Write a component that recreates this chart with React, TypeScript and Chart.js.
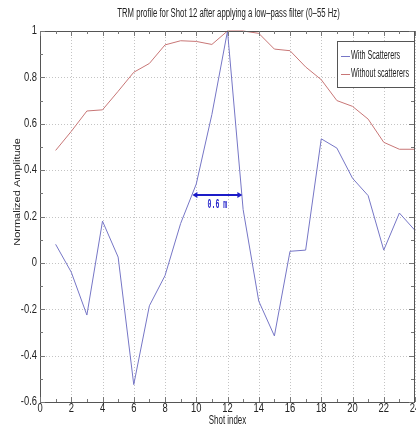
import React, { useEffect, useRef } from "react";
import { Chart, registerables } from "chart.js";

Chart.register(...registerables);

// ---- data ----
const shotIndex = [1, 2, 3, 4, 5, 6, 7, 8, 9, 10, 11, 12, 13, 14, 15, 16, 17, 18, 19, 20, 21, 22, 23, 24];
const withScatterers = [0.08, -0.04, -0.225, 0.18, 0.025, -0.525, -0.185, -0.055, 0.17, 0.34, 0.64, 1.0, 0.23, -0.165, -0.315, 0.05, 0.055, 0.535, 0.495, 0.365, 0.29, 0.055, 0.215, 0.14];
const withoutScatterers = [0.485, 0.567, 0.655, 0.66, 0.74, 0.822, 0.86, 0.94, 0.958, 0.955, 0.942, 1.0, 1.0, 0.99, 0.922, 0.915, 0.845, 0.79, 0.7, 0.675, 0.62, 0.52, 0.49, 0.49];
const seriesLabels = ["With Scatterers", "Without scatterers"];
const seriesColors = ["#7676c6", "#c87676"];
const xRange = [0, 24];
const yRange = [-0.6, 1];
const xStep = 2;
const yStep = 0.2;
const titleText = "TRM profile for Shot 12 after applying a low\u2013pass filter (0\u201355 Hz)";
const xTitle = "Shot index";
const yTitle = "Normalized Amplitude";
// annotation: width marker
const spanX = [9.75, 12.95];
const spanY = 0.293;
const spanLabel = "0.6 m";
const spanLabelPos = [11.35, 0.25];

const TEXT_FONT = "'Liberation Sans', Arial, sans-serif";

function drawSquished(ctx: CanvasRenderingContext2D, text: string, x: number, y: number, sx: number) {
  ctx.save();
  ctx.translate(x, y);
  ctx.scale(sx, 1);
  ctx.fillText(text, 0, 0);
  ctx.restore();
}

const fmtY = (v: number) => String(Number(v.toFixed(1)));

const decor = {
  id: "decor",
  beforeDatasetsDraw(chart: any) {
    const { ctx, chartArea } = chart;
    const { left, right, top, bottom } = chartArea;
    const xs = chart.scales.x;
    const ys = chart.scales.y;
    ctx.save();
    ctx.strokeStyle = "#c4c4c4";
    ctx.lineWidth = 1;
    ctx.setLineDash([1, 2]);
    xs.ticks.forEach((t: any) => {
      const px = Math.round(xs.getPixelForValue(t.value)) + 0.5;
      ctx.beginPath();
      ctx.moveTo(px, top);
      ctx.lineTo(px, bottom);
      ctx.stroke();
    });
    ys.ticks.forEach((t: any) => {
      const py = Math.round(ys.getPixelForValue(t.value)) + 0.5;
      ctx.beginPath();
      ctx.moveTo(left, py);
      ctx.lineTo(right, py);
      ctx.stroke();
    });
    ctx.restore();
  },
  afterDraw(chart: any) {
    const { ctx, chartArea } = chart;
    const { left, right, top, bottom } = chartArea;
    const xs = chart.scales.x;
    const ys = chart.scales.y;
    ctx.save();
    // axes box
    ctx.strokeStyle = "#555";
    ctx.lineWidth = 1;
    ctx.setLineDash([]);
    ctx.strokeRect(Math.round(left) + 0.5, Math.round(top) + 0.5, Math.round(right - left) - 1, Math.round(bottom - top));

    // inward ticks, major and minor
    const tickMarks = (scale: any, horizontal: boolean) => {
      const vals = scale.ticks.map((t: any) => t.value);
      const minors: number[] = [];
      for (let i = 0; i < vals.length - 1; i++) minors.push((vals[i] + vals[i + 1]) / 2);
      const draw = (v: number, len: number) => {
        const p = Math.round(scale.getPixelForValue(v)) + 0.5;
        ctx.beginPath();
        if (horizontal) {
          ctx.moveTo(p, bottom); ctx.lineTo(p, bottom - len);
          ctx.moveTo(p, top); ctx.lineTo(p, top + len);
        } else {
          ctx.moveTo(left, p); ctx.lineTo(left + len, p);
          ctx.moveTo(right - 1, p); ctx.lineTo(right - 1 - len, p);
        }
        ctx.stroke();
      };
      vals.forEach((v: number) => draw(v, 5));
      minors.forEach((v: number) => draw(v, 3));
    };
    ctx.strokeStyle = "#777";
    tickMarks(xs, true);
    tickMarks(ys, false);

    // tick labels (from the scales' own ticks)
    ctx.fillStyle = "#222";
    ctx.font = `12px ${TEXT_FONT}`;
    ctx.textBaseline = "middle";
    ctx.textAlign = "right";
    ys.ticks.forEach((t: any) => {
      drawSquished(ctx, fmtY(t.value), left - 3, ys.getPixelForValue(t.value), 0.78);
    });
    ctx.textAlign = "center";
    xs.ticks.forEach((t: any) => {
      drawSquished(ctx, String(t.value), xs.getPixelForValue(t.value), bottom + 7, 0.78);
    });

    // title
    ctx.fillStyle = "#222";
    ctx.textAlign = "center";
    ctx.textBaseline = "middle";
    ctx.font = `12px ${TEXT_FONT}`;
    drawSquished(ctx, titleText, (left + right) / 2 + 1, 14, 0.645);
    // x title
    drawSquished(ctx, xTitle, (left + right) / 2, 421, 0.66);
    // y title (rotated; squish thickness)
    ctx.save();
    ctx.translate(18, 192);
    ctx.rotate(-Math.PI / 2);
    ctx.scale(1, 0.75);
    ctx.font = `11px ${TEXT_FONT}`;
    ctx.fillText(yTitle, 0, 0);
    ctx.restore();

    // annotation arrow
    const ax1 = xs.getPixelForValue(spanX[0]);
    const ax2 = xs.getPixelForValue(spanX[1]);
    const ay = ys.getPixelForValue(spanY);
    ctx.strokeStyle = "#1c1cc8";
    ctx.fillStyle = "#1c1cc8";
    ctx.lineWidth = 2;
    ctx.beginPath();
    ctx.moveTo(ax1 + 3, ay);
    ctx.lineTo(ax2 - 3, ay);
    ctx.stroke();
    const head = (x: number, dir: number) => {
      ctx.beginPath();
      ctx.moveTo(x, ay);
      ctx.lineTo(x - dir * 5, ay - 3);
      ctx.lineTo(x - dir * 5, ay + 3);
      ctx.closePath();
      ctx.fill();
    };
    head(ax1, -1);
    head(ax2, 1);
    ctx.font = `bold 13px 'Liberation Mono', 'DejaVu Sans Mono', monospace`;
    ctx.textAlign = "center";
    ctx.textBaseline = "middle";
    drawSquished(ctx, spanLabel, xs.getPixelForValue(spanLabelPos[0]), ys.getPixelForValue(spanLabelPos[1]), 0.5);

    // legend box
    const lx = 337.5, ly = 41.5, lw = 77, lh = 46;
    ctx.fillStyle = "#fff";
    ctx.fillRect(lx, ly, lw, lh);
    ctx.strokeStyle = "#555";
    ctx.lineWidth = 1;
    ctx.strokeRect(lx, ly, lw, lh);
    ctx.font = `12px ${TEXT_FONT}`;
    ctx.textAlign = "left";
    ctx.textBaseline = "middle";
    chart.data.datasets.forEach((ds: any, i: number) => {
      const yy = 56 + i * 18;
      ctx.strokeStyle = ds.borderColor;
      ctx.beginPath();
      ctx.moveTo(341, yy + 0.5);
      ctx.lineTo(350, yy + 0.5);
      ctx.stroke();
      ctx.fillStyle = "#222";
      drawSquished(ctx, ds.label, 351, yy, 0.6);
    });
    ctx.restore();
  },
};

export default function App() {
  const ref = useRef<HTMLCanvasElement>(null);
  useEffect(() => {
    document.body.style.margin = "0";
    const canvas = ref.current!;
    const chart = new Chart(canvas, {
      type: "line",
      data: {
        datasets: [
          {
            label: seriesLabels[0],
            data: shotIndex.map((x, i) => ({ x, y: withScatterers[i] })),
            borderColor: seriesColors[0],
            borderWidth: 1,
            pointRadius: 0,
            tension: 0,
            clip: 4,
          },
          {
            label: seriesLabels[1],
            data: shotIndex.map((x, i) => ({ x, y: withoutScatterers[i] })),
            borderColor: seriesColors[1],
            borderWidth: 1,
            pointRadius: 0,
            tension: 0,
            clip: 4,
          },
        ],
      },
      options: {
        animation: false,
        responsive: false,
        devicePixelRatio: 1,
        layout: { padding: { top: 31, right: 1, left: 0, bottom: 0 } },
        plugins: {
          legend: { display: false },
          title: { display: false },
          tooltip: { enabled: false },
        },
        scales: {
          x: {
            type: "linear",
            min: xRange[0],
            max: xRange[1],
            ticks: { stepSize: xStep, display: false, autoSkip: false },
            grid: { display: false, drawTicks: false },
            border: { display: false },
            afterFit: (s: any) => {
              s.height = 31;
              s.paddingLeft = 0;
              s.paddingRight = 0;
            },
          },
          y: {
            type: "linear",
            min: yRange[0],
            max: yRange[1],
            ticks: { stepSize: yStep, display: false },
            grid: { display: false, drawTicks: false },
            border: { display: false },
            afterFit: (s: any) => {
              s.width = 40;
              s.paddingTop = 0;
              s.paddingBottom = 0;
            },
          },
        },
      } as any,
      plugins: [decor],
    });
    return () => chart.destroy();
  }, []);
  return <canvas ref={ref} width={416} height={433} style={{ display: "block" }} />;
}
